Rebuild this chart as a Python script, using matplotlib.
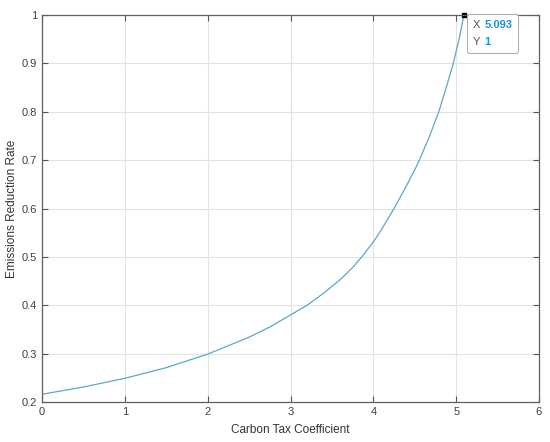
import numpy as np
import matplotlib
matplotlib.use('Agg')
import matplotlib.pyplot as plt
from matplotlib.offsetbox import TextArea, HPacker, VPacker, AnnotationBbox

# values
tax = [0, 0.5, 1, 1.5, 2, 2.5, 2.75, 3, 3.2, 3.4, 3.6, 3.75, 3.86, 4, 4.1,
       4.25, 4.4, 4.5, 4.555, 4.68, 4.79, 4.88, 4.965, 5.035, 5.093]
rate = [0.216, 0.231, 0.249, 0.271, 0.299, 0.334, 0.355, 0.380, 0.400, 0.425,
        0.453, 0.478, 0.500, 0.531, 0.557, 0.600, 0.647, 0.680, 0.700, 0.750,
        0.800, 0.850, 0.900, 0.950, 1.0]

tip_x = 5.093
tip_y = 1

xticks = [0, 1, 2, 3, 4, 5, 6]
yticks = [0.2, 0.3, 0.4, 0.5, 0.6, 0.7, 0.8, 0.9, 1]

plt.rcParams['font.family'] = ['Liberation Sans', 'DejaVu Sans']

fig = plt.figure(figsize=(5.5, 4.42), dpi=100)
ax = fig.add_axes([0.0764, 0.0905, 0.9036, 0.8755])

ax.plot(tax, rate, color='#5fa6c6', lw=0.9)
ax.plot([tip_x], [tip_y], marker='s', ms=3, color='black', clip_on=False)

ax.set_xlim(0, 6)
ax.set_ylim(0.2, 1)
ax.set_xticks(xticks)
ax.set_yticks(yticks)
ax.set_xticklabels([str(t) for t in xticks])
ax.set_yticklabels(['0.2', '0.3', '0.4', '0.5', '0.6', '0.7', '0.8', '0.9', '1'])
ax.grid(True, color='#e2e2e2', lw=0.8)
ax.set_axisbelow(True)
ax.tick_params(direction='in', length=4, width=0.8, colors='#555555',
               labelcolor='#404040', labelsize=8, top=True, right=True)
for s in ax.spines.values():
    s.set_color('#606060')
    s.set_linewidth(0.9)

ax.set_xlabel('Carbon Tax Coefficient', fontsize=8.5, color='#333333', labelpad=5)
ax.set_ylabel('Emissions Reduction Rate', fontsize=8.5, color='#333333', labelpad=3)

# data tip
blue = '#1f8fd6'
row1 = HPacker(children=[TextArea('X', textprops=dict(color='#555555', fontsize=8)),
                         TextArea('5.093', textprops=dict(color=blue, fontsize=8, weight='bold'))],
               sep=3, pad=0)
row2 = HPacker(children=[TextArea('Y', textprops=dict(color='#555555', fontsize=8)),
                         TextArea(str(tip_y), textprops=dict(color=blue, fontsize=8, weight='bold'))],
               sep=3, pad=0)
box = VPacker(children=[row1, row2], sep=5, pad=0)
ab = AnnotationBbox(box, (tip_x, tip_y), xybox=(6.3, -3.6), boxcoords='offset points',
                    box_alignment=(0, 1), frameon=True, pad=0.4,
                    bboxprops=dict(boxstyle='round,pad=0.4,rounding_size=0.15',
                                   fc='white', ec='#b0b0b0', lw=0.8))
ab.set_clip_on(False)
ax.add_artist(ab)

fig.savefig('out.png', dpi=100)
